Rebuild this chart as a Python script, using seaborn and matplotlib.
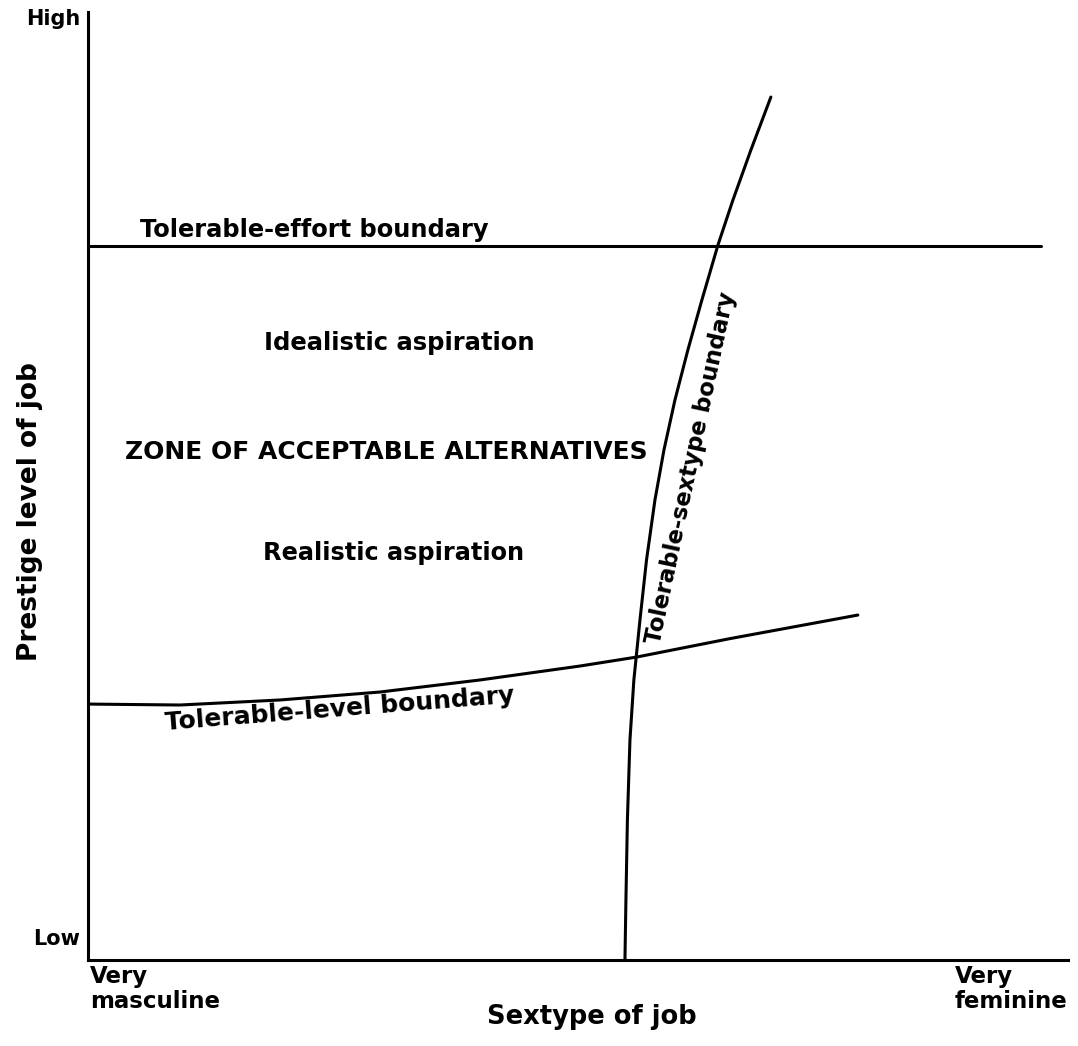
import matplotlib
matplotlib.use("Agg")
import matplotlib.pyplot as plt
import pandas as pd
import seaborn as sns

# boundaries of the zone (sextype 0 = very masculine, 100 = very feminine;
# prestige 0 = low, 100 = high)
effort_x = [0, 97.3]
effort_y = [75.3, 75.3]

sextype_x = [54.80, 54.90, 55.05, 55.31, 55.71, 56.33, 57.00, 57.86,
             58.78, 59.90, 61.22, 62.65, 64.29, 65.82, 67.65, 69.69]
sextype_y = [0.0, 6.33, 14.77, 23.21, 29.54, 35.86, 42.19, 48.52,
             53.80, 59.07, 64.35, 69.62, 75.42, 80.17, 85.44, 91.03]

level_x = [0, 9.39, 19.59, 29.80, 40.0, 50.2, 56.0, 65.5, 78.57]
level_y = [27.0, 26.9, 27.43, 28.27, 29.54, 31.01, 31.96, 33.90, 36.39]

sns.set_style("white")
plt.rcParams["font.family"] = ["DejaVu Sans"]

fig = plt.figure(figsize=(10.78, 10.46), dpi=100)
ax = fig.add_axes([0.0816, 0.0822, 0.909, 0.9063])

for xs, ys in [(effort_x, effort_y), (sextype_x, sextype_y), (level_x, level_y)]:
    df = pd.DataFrame({"x": xs, "y": ys})
    sns.lineplot(data=df, x="x", y="y", ax=ax, color="black", linewidth=2.2,
                 sort=False, estimator=None)

ax.set_xlim(0, 100)
ax.set_ylim(0, 100)
ax.set_xticks([])
ax.set_yticks([])
ax.set_xlabel("")
ax.set_ylabel("")
for s in ["top", "right"]:
    ax.spines[s].set_visible(False)
for s in ["left", "bottom"]:
    ax.spines[s].set_linewidth(2.2)
    ax.spines[s].set_color("black")

kw = dict(fontweight="bold", color="black")
ax.text(5.3, 77.0, "Tolerable-effort boundary", ha="left", va="center",
        fontsize=17.4, **kw)
ax.text(31.8, 65.1, "Idealistic aspiration", ha="center", va="center",
        fontsize=17.5, **kw)
ax.text(30.4, 53.6, "ZONE OF ACCEPTABLE ALTERNATIVES", ha="center", va="center",
        fontsize=18, **kw)
ax.text(31.2, 42.9, "Realistic aspiration", ha="center", va="center",
        fontsize=17.3, **kw)
ax.text(25.7, 26.5, "Tolerable-level boundary", ha="center", va="center",
        rotation=4.5, fontsize=18, **kw)
ax.text(61.5, 51.9, "Tolerable-sextype boundary", ha="center", va="center",
        rotation=78, fontsize=16.5, **kw)

ax.text(-0.8, 99.3, "High", ha="right", va="center", fontsize=15, **kw)
ax.text(-0.8, 2.2, "Low", ha="right", va="center", fontsize=15, **kw)
ax.text(0.2, -0.5, "Very\nmasculine", ha="left", va="top", linespacing=1.1,
        fontsize=16.5, **kw)
ax.text(100, -0.5, "Very\nfeminine", ha="right", va="top", linespacing=1.1,
        multialignment="left", fontsize=16.5, **kw)
ax.text(51.4, -6.0, "Sextype of job", ha="center", va="center",
        fontsize=18.5, **kw)
ax.text(-5.9, 47.3, "Prestige level of job", ha="center", va="center",
        rotation=90, fontsize=19, **kw)

fig.savefig("out.png", dpi=100)
